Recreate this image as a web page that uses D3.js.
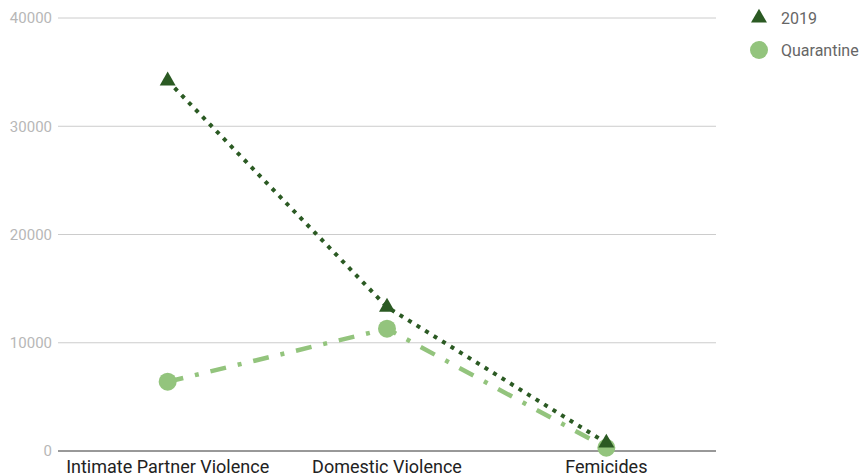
<!DOCTYPE html>
<html>
<head>
<meta charset="utf-8">
<script src="https://cdn.jsdelivr.net/npm/d3@7"></script>
<style>
  html, body { margin: 0; padding: 0; background: #fff; }
  svg { display: block; font-family: Roboto, "Noto Sans", sans-serif; }
</style>
</head>
<body>
<svg id="chart" width="863" height="474"></svg>
<script>
const categories = ["Intimate Partner Violence", "Domestic Violence", "Femicides"];
const values2019 = [34200, 13300, 750];
const valuesQuarantine = [6400, 11300, 300];
const yTicks = [0, 10000, 20000, 30000, 40000];
const seriesNames = ["2019", "Quarantine"];

const svg = d3.select("#chart");
const plot = { left: 58, right: 716, top: 18, bottom: 451 };

const x = d3.scalePoint().domain(categories).range([plot.left, plot.right]).padding(0.5);
const y = d3.scaleLinear().domain([0, 40000]).range([plot.bottom, plot.top]);

// Horizontal gridlines
svg.append("g")
  .selectAll("line")
  .data(yTicks.filter(d => d !== 0))
  .join("line")
  .attr("x1", plot.left).attr("x2", plot.right)
  .attr("y1", d => y(d)).attr("y2", d => y(d))
  .attr("stroke", "#cccccc").attr("stroke-width", 1);

// Y tick labels
svg.append("g")
  .selectAll("text")
  .data(yTicks)
  .join("text")
  .attr("x", plot.left - 6)
  .attr("y", d => y(d))
  .attr("dy", "0.35em")
  .attr("text-anchor", "end")
  .attr("font-size", 15)
  .attr("fill", "#b7b7b7")
  .text(d => d);

// Baseline
svg.append("line")
  .attr("x1", plot.left).attr("x2", plot.right)
  .attr("y1", y(0)).attr("y2", y(0))
  .attr("stroke", "#333333").attr("stroke-width", 1);

// Category labels (sit at the very bottom of the canvas)
svg.append("g")
  .selectAll("text")
  .data(categories)
  .join("text")
  .attr("x", d => x(d))
  .attr("y", y(0) + 22)
  .attr("text-anchor", "middle")
  .attr("font-size", 18)
  .attr("fill", "#222222")
  .text(d => d);

const line = d3.line().x((d, i) => x(categories[i])).y(d => y(d));

const dark = "#2b5a23";
const light = "#93c47d";

// Quarantine series: dash-dot line with circles
svg.append("path")
  .datum(valuesQuarantine)
  .attr("d", line)
  .attr("fill", "none")
  .attr("stroke", light)
  .attr("stroke-width", 4.5)
  .attr("stroke-dasharray", "16,12,4,12");

// 2019 series: dotted line with triangles
svg.append("path")
  .datum(values2019)
  .attr("d", line)
  .attr("fill", "none")
  .attr("stroke", dark)
  .attr("stroke-width", 4)
  .attr("stroke-dasharray", "4,6");

const tri = d3.symbol().type(d3.symbolTriangle).size(110);

svg.append("g")
  .selectAll("circle")
  .data(valuesQuarantine)
  .join("circle")
  .attr("cx", (d, i) => x(categories[i]))
  .attr("cy", d => y(d))
  .attr("r", 9)
  .attr("fill", light);

svg.append("g")
  .selectAll("path")
  .data(values2019)
  .join("path")
  .attr("d", tri)
  .attr("transform", (d, i) => `translate(${x(categories[i])},${y(d)})`)
  .attr("fill", dark);

// Legend
const legend = svg.append("g").attr("transform", "translate(759,18)");
legend.append("path").attr("d", tri).attr("fill", dark);
legend.append("text").attr("x", 22).attr("y", 0).attr("dy", "0.35em")
  .attr("font-size", 16).attr("fill", "#666666").text(seriesNames[0]);
legend.append("circle").attr("cx", 0).attr("cy", 32).attr("r", 9).attr("fill", light);
legend.append("text").attr("x", 22).attr("y", 32).attr("dy", "0.35em")
  .attr("font-size", 16).attr("fill", "#666666").text(seriesNames[1]);
</script>
</body>
</html>
